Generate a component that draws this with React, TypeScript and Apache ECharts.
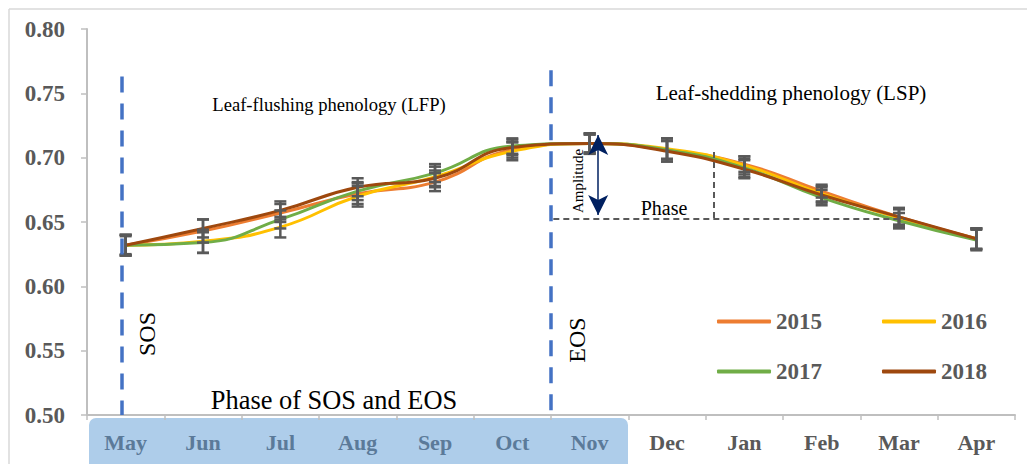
import React, { useEffect, useRef } from "react";
import * as echarts from "echarts";

const months = ["May", "Jun", "Jul", "Aug", "Sep", "Oct", "Nov", "Dec", "Jan", "Feb", "Mar", "Apr"];
const years = ["2015", "2016", "2017", "2018"];
const colors = ["#ED7D31", "#FFC000", "#70AD47", "#9E480E"];

const v2015 = [0.632, 0.643, 0.657, 0.672, 0.681, 0.706, 0.711, 0.706, 0.695, 0.674, 0.654, 0.637];
const v2016 = [0.632, 0.635, 0.646, 0.670, 0.685, 0.705, 0.711, 0.707, 0.694, 0.672, 0.653, 0.637];
const v2017 = [0.632, 0.634, 0.652, 0.674, 0.688, 0.709, 0.711, 0.706, 0.692, 0.669, 0.651, 0.636];
const v2018 = [0.632, 0.645, 0.659, 0.677, 0.684, 0.708, 0.711, 0.705, 0.691, 0.671, 0.654, 0.637];

const e2015 = [0.008, 0.009, 0.007, 0.008, 0.007, 0.006, 0.008, 0.007, 0.006, 0.005, 0.006, 0.008];
const e2016 = [0.008, 0.009, 0.008, 0.008, 0.008, 0.007, 0.007, 0.008, 0.007, 0.006, 0.007, 0.008];
const e2017 = [0.007, 0.008, 0.007, 0.007, 0.007, 0.006, 0.008, 0.009, 0.007, 0.006, 0.006, 0.008];
const e2018 = [0.008, 0.007, 0.007, 0.007, 0.006, 0.006, 0.007, 0.008, 0.007, 0.006, 0.007, 0.008];

const values = [v2015, v2016, v2017, v2018];
const errors = [e2015, e2016, e2017, e2018];

// annotation positions on hidden value axis (0..12 across the category axis) and the y axis
const sosX = 0.45;
const sosTop = 0.763;
const eosX = 6.0;
const eosTop = 0.768;
const ampX = 6.61;
const ampTop = 0.7176;
const ampBottom = 0.6554;
const phaseY = 0.6523;
const phaseX0 = 6.03;
const phaseX1 = 10.58;
const phaseVX = 8.1;
const phaseVTop = 0.7044;

const SERIF = "Liberation Serif, DejaVu Serif, serif";
const GRAY = "#595959";

export default function App() {
  const ref = useRef<HTMLDivElement>(null);
  useEffect(() => {
    if (!ref.current) return;
    const chart = echarts.init(ref.current, undefined, { renderer: "svg" });

    const lineSeries = years.map((y, i) => ({
      name: y,
      type: "line",
      data: values[i],
      smooth: 0.5,
      symbol: "none",
      lineStyle: { width: 3, color: colors[i] },
      itemStyle: { color: colors[i] },
      z: 2,
    }));

    const errSeries = years.map((y, i) => ({
      name: "err" + y,
      type: "custom",
      data: values[i].map((v, k) => [k, v, errors[i][k]]),
      z: 3,
      silent: true,
      renderItem: (params: any, api: any) => {
        const x = api.value(0);
        const v = api.value(1);
        const e = api.value(2);
        const t = api.coord([x, v + e]);
        const b = api.coord([x, v - e]);
        const hw = 6;
        const st = { stroke: GRAY, lineWidth: 2.5 };
        return {
          type: "group",
          children: [
            { type: "line", shape: { x1: t[0], y1: t[1], x2: b[0], y2: b[1] }, style: st },
            { type: "line", shape: { x1: t[0] - hw, y1: t[1], x2: t[0] + hw, y2: t[1] }, style: st },
            { type: "line", shape: { x1: b[0] - hw, y1: b[1], x2: b[0] + hw, y2: b[1] }, style: st },
          ],
        };
      },
    }));

    const blueDash = { color: "#4472C4", width: 3.5, type: [16, 11] as any };
    const grayDash = { color: GRAY, width: 2, type: [6, 4] as any };

    const annot = {
      name: "annot",
      type: "line",
      xAxisIndex: 1,
      data: [],
      silent: true,
      markLine: {
        silent: true,
        symbol: "none",
        label: { show: false },
        animation: false,
        data: [
          [
            { coord: [sosX, sosTop], lineStyle: blueDash },
            { coord: [sosX, 0.5] },
          ],
          [
            { coord: [eosX, eosTop], lineStyle: blueDash },
            { coord: [eosX, 0.5] },
          ],
          [
            { coord: [phaseX0, phaseY], lineStyle: grayDash },
            { coord: [phaseX1, phaseY] },
          ],
          [
            { coord: [phaseVX, phaseVTop], lineStyle: grayDash },
            { coord: [phaseVX, phaseY] },
          ],
          [
            {
              coord: [ampX, ampTop],
              symbol: "arrow",
              symbolSize: [15, 20],
              lineStyle: { color: "#002060", width: 1.5, type: "solid" },
            },
            { coord: [ampX, ampBottom], symbol: "arrow", symbolSize: [15, 20] },
          ],
        ],
      },
    };

    const legendBase = {
      itemWidth: 54,
      itemHeight: 4,
      icon: "roundRect",
      itemGap: 60,
      selectedMode: false,
      textStyle: { fontFamily: SERIF, fontSize: 23, fontWeight: "bold", color: GRAY },
    };

    const option: any = {
      animation: false,
      grid: { left: 87, right: 12, top: 29, bottom: 49, containLabel: false },
      legend: [
        { ...legendBase, data: ["2015", "2016"], left: 712, top: 305 },
        { ...legendBase, data: ["2017", "2018"], left: 712, top: 355 },
      ],
      xAxis: [
        {
          type: "category",
          data: months,
          boundaryGap: true,
          axisLine: { lineStyle: { color: "#BFBFBF", width: 2 } },
          axisTick: { show: true, length: 5, lineStyle: { color: "#BFBFBF", width: 1.5 } },
          axisLabel: {
            margin: 16,
            formatter: (v: string, i: number) => (i <= 6 ? `{h|${v}}` : `{n|${v}}`),
            rich: {
              h: { fontFamily: SERIF, fontSize: 22, fontWeight: "bold", color: "#5B7A99" },
              n: { fontFamily: SERIF, fontSize: 22, fontWeight: "bold", color: GRAY },
            },
          },
          splitLine: { show: false },
        },
        {
          type: "value",
          min: 0,
          max: 12,
          show: false,
        },
      ],
      yAxis: {
        type: "value",
        min: 0.5,
        max: 0.8,
        interval: 0.05,
        axisLine: { show: true, lineStyle: { color: "#BFBFBF", width: 2 } },
        axisTick: { show: true, length: 6, lineStyle: { color: "#BFBFBF", width: 1.5 } },
        splitLine: { show: false },
        axisLabel: {
          margin: 22,
          formatter: (v: number) => `{a|${v.toFixed(2)}}`,
          rich: {
            a: { fontFamily: SERIF, fontSize: 23, fontWeight: "bold", color: GRAY },
          },
        },
      },
      graphic: {
        elements: [
          {
            type: "rect",
            z: -10,
            shape: { x: 89, y: 418, width: 539, height: 60, r: 7 },
            style: { fill: "#AECDEA" },
          },
          { type: "line", z: -10, shape: { x1: 9, y1: 9, x2: 1027, y2: 9 }, style: { stroke: "#D9D9D9", lineWidth: 1.5 } },
          { type: "line", z: -10, shape: { x1: 9, y1: 9, x2: 9, y2: 464 }, style: { stroke: "#D9D9D9", lineWidth: 1.5 } },
          {
            type: "text",
            x: 329,
            y: 104,
            style: { text: "Leaf-flushing phenology (LFP)", font: `18.6px ${SERIF}`, fill: "#000", align: "center", verticalAlign: "middle" },
          },
          {
            type: "text",
            x: 791,
            y: 93,
            style: { text: "Leaf-shedding phenology (LSP)", font: `21px ${SERIF}`, fill: "#000", align: "center", verticalAlign: "middle" },
          },
          {
            type: "text",
            x: 334,
            y: 400,
            style: { text: "Phase of SOS and EOS", font: `26.4px ${SERIF}`, fill: "#000", align: "center", verticalAlign: "middle" },
          },
          {
            type: "text",
            x: 664,
            y: 208,
            style: { text: "Phase", font: `20px ${SERIF}`, fill: "#000", align: "center", verticalAlign: "middle" },
          },
          {
            type: "text",
            x: 578,
            y: 181,
            rotation: Math.PI / 2,
            style: { text: "Amplitude", font: `15px ${SERIF}`, fill: "#000", align: "center", verticalAlign: "middle" },
          },
          {
            type: "text",
            x: 147,
            y: 334,
            rotation: Math.PI / 2,
            style: { text: "SOS", font: `24px ${SERIF}`, fill: "#000", align: "center", verticalAlign: "middle" },
          },
          {
            type: "text",
            x: 577,
            y: 340,
            rotation: Math.PI / 2,
            style: { text: "EOS", font: `24px ${SERIF}`, fill: "#000", align: "center", verticalAlign: "middle" },
          },
        ],
      },
      series: [...lineSeries, ...errSeries, annot],
    };
    chart.setOption(option);
    return () => chart.dispose();
  }, []);
  return (
    <div
      ref={ref}
      style={{ position: "absolute", left: 0, top: 0, width: 1027, height: 464, background: "#fff" }}
    />
  );
}
